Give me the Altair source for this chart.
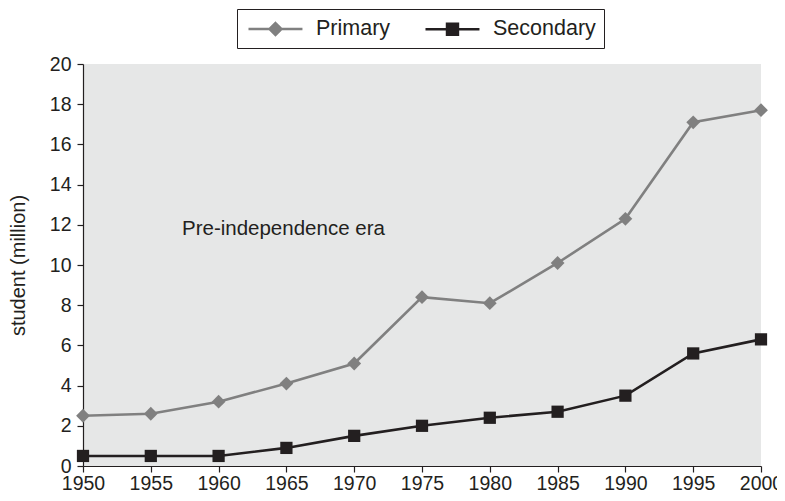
import altair as alt
import pandas as pd

years = [1950, 1955, 1960, 1965, 1970, 1975, 1980, 1985, 1990, 1995, 2000]
primary = [2.5, 2.6, 3.2, 4.1, 5.1, 8.4, 8.1, 10.1, 12.3, 17.1, 17.7]
secondary = [0.5, 0.5, 0.5, 0.9, 1.5, 2.0, 2.4, 2.7, 3.5, 5.6, 6.3]
series_names = ["Primary", "Secondary"]
series_colors = ["#808080", "#231f20"]
series_shapes = ["diamond", "square"]
series_sizes = [190, 150]
legend_shapes = [
    "M-0.81,0H4.33M1.76,-0.57L2.33,0L1.76,0.57L1.19,0Z",
    "M-0.81,0H4.33M1.24,-0.52H2.28V0.52H1.24Z",
]

ann_text = ["Pre-independence era"]
ann_x = [1957.3]
ann_y = [11.8]

rows = []
for name, vals in zip(series_names, [primary, secondary]):
    for y, v in zip(years, vals):
        rows.append({"year": y, "value": v, "series": name})
df = pd.DataFrame(rows)
ann = pd.DataFrame({"x": ann_x, "y": ann_y, "text": ann_text})

FONT = "Liberation Sans"
INK = "#231f20"

legend = alt.Legend(
    title=None,
    orient="none",
    legendX=154,
    legendY=-55,
    direction="horizontal",
    strokeColor=INK,
    padding=8,
    symbolSize=441,
    symbolStrokeWidth=2.5,
    symbolOpacity=1,
    labelFont=FONT,
    labelFontSize=21.5,
    labelColor=INK,
    labelOffset=47,
    columnPadding=29,
)

x_enc = alt.X(
    "year:Q",
    scale=alt.Scale(domain=[1950, 2000], nice=False, zero=False),
    axis=alt.Axis(values=years, format="d", title=None, labelFlush=False),
)
y_enc = alt.Y(
    "value:Q",
    scale=alt.Scale(domain=[0, 20], nice=False),
    axis=alt.Axis(values=list(range(0, 21, 2)), title="student (million)"),
)

def cscale():
    return alt.Scale(domain=series_names, range=series_colors)

layers = []
for name, col in zip(series_names, series_colors):
    layers.append(
        alt.Chart(df).transform_filter(alt.datum.series == name)
        .mark_line(strokeWidth=2.6, color=col)
        .encode(x=x_enc, y=y_enc)
    )
for name, col, shp, sz in zip(series_names, series_colors, series_shapes, series_sizes):
    layers.append(
        alt.Chart(df).transform_filter(alt.datum.series == name)
        .mark_point(filled=True, size=sz, opacity=1, shape=shp, color=col)
        .encode(x=x_enc, y=y_enc)
    )

legend_layer = alt.Chart(df).mark_point(size=0, filled=False).encode(
    x=x_enc, y=y_enc,
    fill=alt.Fill("series:N", scale=cscale(), legend=legend),
    stroke=alt.Stroke("series:N", scale=cscale(), legend=legend),
    shape=alt.Shape("series:N", scale=alt.Scale(domain=series_names, range=legend_shapes), legend=legend),
)

text = alt.Chart(ann).mark_text(align="left", baseline="middle", font=FONT, fontSize=20.5, color=INK).encode(
    x="x:Q", y="y:Q", text="text:N"
)

chart = alt.layer(*layers, legend_layer, text).properties(
    width=678,
    height=402,
    background="white",
    padding={"left": 75, "top": 56, "right": 16, "bottom": 27},
    autosize=alt.AutoSizeParams(type="none"),
).configure_view(
    fill="#e6e7e7", stroke=None
).configure_axis(
    grid=False,
    domainColor=INK,
    domainWidth=1.2,
    tickColor=INK,
    tickWidth=1.2,
    tickSize=6,
    labelFont=FONT,
    labelFontSize=19.5,
    labelColor=INK,
    labelPadding=6,
    titleFont=FONT,
    titleFontSize=20,
    titleFontWeight="normal",
    titleColor=INK,
).configure_axisX(
    labelPadding=2,
).configure_axisY(
    titlePadding=21,
)

chart.save("out.html", embed_options={"renderer": "svg", "actions": False})
